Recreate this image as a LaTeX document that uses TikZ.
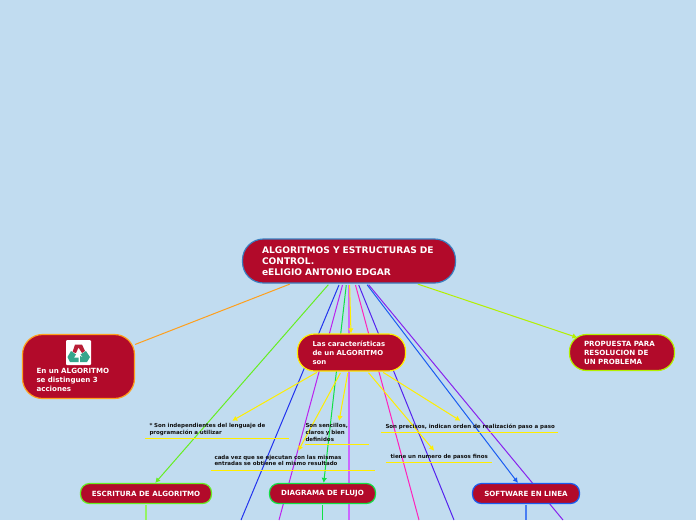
\documentclass[tikz,border=0pt]{standalone}
\usepackage{fontspec}
\setmainfont{DejaVu Sans}
\usetikzlibrary{positioning,backgrounds,arrows.meta}
\definecolor{paneBlue}{HTML}{C1DCF0}
\definecolor{crimson}{HTML}{B20A2A}
\definecolor{rootStroke}{HTML}{3A7FC0}
\definecolor{sunYellow}{HTML}{FFEE00}
\definecolor{orangeLine}{HTML}{FF9F1C}
\definecolor{limeLine}{HTML}{B4F000}
\definecolor{grassLine}{HTML}{66EE22}
\definecolor{mintLine}{HTML}{11E044}
\definecolor{blueLine}{HTML}{2233EE}
\definecolor{skyLine}{HTML}{1A5CF0}
\definecolor{violetLine}{HTML}{5522EE}
\definecolor{purpLine}{HTML}{8822EE}
\definecolor{magLine}{HTML}{BB22EE}
\definecolor{lilacLine}{HTML}{CC66FF}
\definecolor{pinkLine}{HTML}{FF22BB}
\definecolor{inkText}{HTML}{111111}
\definecolor{iconTeal}{HTML}{35A58C}
\definecolor{iconRed}{HTML}{B81E36}

\begin{document}
\begin{tikzpicture}[
  x=1pt, y=-1pt,
  topic/.style={rounded corners=#1, fill=crimson, line width=1.2pt, text=white,
                font=\bfseries, align=left, inner sep=0pt},
  topic/.default=9pt,
  note/.style={font=\fontsize{5.5}{6.6}\selectfont\bfseries, text=inkText, align=left,
               inner xsep=4.5pt, inner ysep=0pt},
  underl/.style={line width=1.1pt, draw=sunYellow},
  link/.style={line width=1pt, shorten <=1.5pt},
  flow/.style={link, -{Latex[length=5pt,width=5.5pt]}},
]
\useasboundingbox (0,0) rectangle (696,520);

% ---------------- NODES (absolute grid, px) ----------------
\node[topic=21pt, draw=rootStroke, minimum width=213pt, minimum height=44pt,
      text width=174pt, font=\fontsize{9.1}{11}\selectfont\bfseries] (ROOT) at (349,261)
  {ALGORITMOS Y ESTRUCTURAS DE\\CONTROL.\\eELIGIO ANTONIO EDGAR};
\node[topic=17pt, draw=sunYellow, minimum width=108pt, minimum height=37pt,
      text width=78pt, font=\fontsize{6.9}{9}\selectfont\bfseries] (CARACT) at (351.5,352.5)
  {Las características\\de un ALGORITMO\\son};
\node[topic=20pt, draw=orangeLine, minimum width=112pt, minimum height=64pt,
      text width=84pt, font=\fontsize{7.1}{9}\selectfont\bfseries] (ACCIONES) at (78.5,366.5)
  {\rule{0pt}{23pt}\\En un ALGORITMO\\se distinguen 3\\acciones};
\node[topic=17pt, draw=limeLine, minimum width=105pt, minimum height=36pt,
      text width=76pt, font=\fontsize{7.1}{9}\selectfont\bfseries] (PROPUESTA) at (622,352.5)
  {PROPUESTA PARA\\RESOLUCION DE\\UN PROBLEMA};
\node[topic, draw=grassLine, minimum width=131pt, minimum height=20pt, align=center,
      font=\fontsize{7.1}{8}\selectfont\bfseries] (ESCRITURA) at (146,493.5) {ESCRITURA DE ALGORITMO};
\node[topic, draw=mintLine, minimum width=106pt, minimum height=20pt, align=center,
      font=\fontsize{7.1}{8}\selectfont\bfseries] (DIAGRAMA) at (322.5,493.5) {DIAGRAMA DE FLUJO};
\node[topic, draw=skyLine, minimum width=107pt, minimum height=20pt, align=center,
      font=\fontsize{7.1}{8}\selectfont\bfseries] (SOFTWARE) at (526,493.5) {SOFTWARE EN LINEA};

\node[note, text width=135pt, minimum height=17pt] (INDEP) at (217,429.5)
  {* Son independientes del lenguaje de\\programación a utilizar};
\node[note, inner xsep=0.5pt, text width=63pt, minimum height=23pt] (CLAROS) at (337,432.5)
  {Son sencillos,\\claros y bien\\definidos};
\node[note, inner xsep=3.5pt, text width=157pt, minimum height=19pt] (MISMO) at (293,460.5)
  {cada vez que se ejecutan con las mismas\\entradas se obtiene el mismo resultado};
\node[note, text width=168pt, minimum height=11pt] (PRECISOS) at (469.5,426.5)
  {\mbox{Son precisos, indican orden de realización paso a paso}};
\node[note, text width=97pt, minimum height=11pt] (FINOS) at (439,456.5)
  {\mbox{tiene un numero de pasos finos}};

% recycling icon
\node[fill=white, rounded corners=1pt, minimum size=25pt, inner sep=0pt] (ICON) at (78.5,352.5) {};
\fill[iconRed] (72.5,352) -- (75,344.5) -- (82,344.5) -- (85,351) -- (82,353) -- (78.5,347.5) -- (76,353) -- cycle;
\fill[iconTeal] (67.5,357) -- (71,351) -- (76,354.5) -- (74,357.5) -- (78.5,357.5) -- (78.5,362) -- (70,362) -- cycle;
\fill[iconTeal] (90,357) -- (86,351) -- (80.5,354.5) -- (83.5,357.5) -- (80,356) -- (80,362) -- (87,362) -- cycle;

% free ends below the page
\coordinate (endA) at (241,520);
\coordinate (endB) at (279,520);
\coordinate (endC) at (349,520);
\coordinate (endD) at (419,520);
\coordinate (endE) at (454,520);
\coordinate (endF) at (563,520);
\coordinate (endG) at (146,520);
\coordinate (endH) at (322.5,520);
\coordinate (endI) at (526,520);

% ---------------- EDGES (background) ----------------
\begin{scope}[on background layer]
  \fill[paneBlue] (0,0) rectangle (696,520);
  \draw[link, draw=orangeLine] (ROOT) -- (ACCIONES);
  \draw[flow, draw=grassLine] (ROOT) -- (ESCRITURA);
  \draw[link, draw=blueLine] (ROOT) -- (endA);
  \draw[link, draw=magLine] (ROOT) -- (endB);
  \draw[flow, draw=mintLine] (ROOT) -- (DIAGRAMA);
  \draw[link, line width=1.5pt, draw=lilacLine] (ROOT) -- (endC);
  \draw[link, draw=pinkLine] (ROOT) -- (endD);
  \draw[link, draw=violetLine] (ROOT) -- (endE);
  \draw[flow, draw=skyLine] (ROOT) -- (SOFTWARE);
  \draw[link, draw=purpLine] (ROOT) -- (endF);
  \draw[flow, draw=limeLine, shorten >=-9pt] (ROOT) -- (PROPUESTA);
  \draw[flow, draw=sunYellow] (ROOT) -- (CARACT);
  % yellow fan
  \draw[flow, draw=sunYellow] (CARACT) -- (INDEP);
  \draw[flow, draw=sunYellow] (CARACT) -- (CLAROS);
  \draw[flow, draw=sunYellow] (CARACT) -- (MISMO);
  \draw[flow, draw=sunYellow] (CARACT) -- (PRECISOS);
  \draw[flow, draw=sunYellow] (CARACT) -- (FINOS);
  % stubs
  \draw[link, line width=1.3pt, draw=grassLine!70!white, shorten <=1pt] (ESCRITURA) -- (endG);
  \draw[link, line width=1.3pt, draw=mintLine, shorten <=1pt] (DIAGRAMA) -- (endH);
  \draw[link, line width=1.3pt, draw=skyLine!80!white, shorten <=1pt] (SOFTWARE) -- (endI);
\end{scope}

% ---------------- UNDERLINES ----------------
\draw[underl] (INDEP.south west) -- (INDEP.south east);
\draw[underl] (CLAROS.south west) -- (CLAROS.south east);
\draw[underl] (MISMO.south west) -- (MISMO.south east);
\draw[underl] (PRECISOS.south west) -- (PRECISOS.south east);
\draw[underl] (FINOS.south west) -- (FINOS.south east);
\end{tikzpicture}
\end{document}
